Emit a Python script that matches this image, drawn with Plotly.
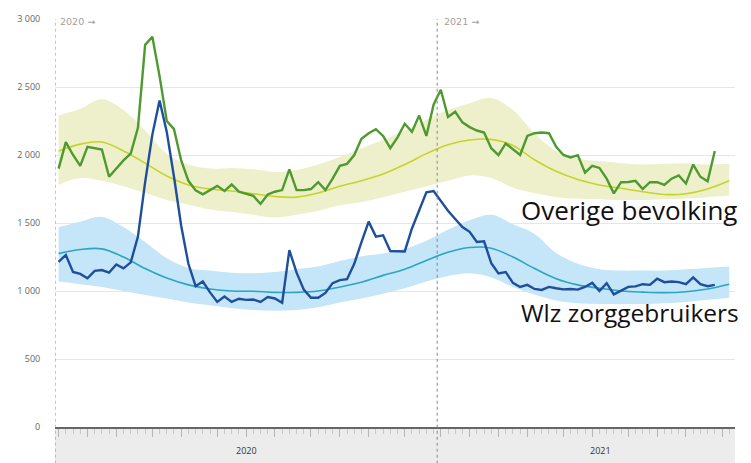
import plotly.graph_objects as go

#%% data (week index: 0 = week 1 of 2020, 53 = week 1 of 2021)
weeks_obs = list(range(92))

overige_obs = [1900, 2095, 2000, 1920, 2060, 2050, 2040, 1840, 1900, 1960,
               2010, 2200, 2810, 2870, 2580, 2250, 2190, 1960, 1810, 1740,
               1711, 1742, 1773, 1735, 1783, 1730, 1715, 1700, 1640, 1710,
               1730, 1742, 1894, 1742, 1742, 1750, 1800, 1742, 1826, 1920,
               1935, 2000, 2120, 2160, 2190, 2140, 2050, 2130, 2230, 2170,
               2290, 2140, 2370, 2480, 2280, 2318, 2240, 2205, 2180, 2165,
               2050, 2000, 2085, 2040, 2000, 2140, 2160, 2165, 2160, 2060,
               2000, 1982, 1999, 1870, 1920, 1905, 1826, 1718, 1800, 1802,
               1810, 1750, 1800, 1800, 1780, 1826, 1850, 1790, 1930, 1840,
               1807, 2030]

wlz_obs = [1214, 1265, 1140, 1126, 1094, 1148, 1154, 1135, 1195, 1166,
           1210, 1400, 1800, 2150, 2400, 2170, 1840, 1480, 1200, 1035,
           1070, 990, 920, 960, 920, 943, 935, 937, 920, 955,
           945, 914, 1300, 1135, 1010, 950, 950, 986, 1058, 1080,
           1087, 1200, 1360, 1510, 1400, 1410, 1294, 1291, 1291, 1460,
           1600, 1725, 1735, 1660, 1590, 1530, 1470, 1435, 1360, 1365,
           1205, 1130, 1140, 1060, 1030, 1045, 1015, 1008, 1030, 1020,
           1012, 1015, 1010, 1030, 1060, 1000, 1058, 975, 1000, 1030,
           1034, 1050, 1045, 1090, 1065, 1070, 1065, 1050, 1100, 1050,
           1035, 1045]

weeks_exp = [0, 3, 6, 9, 12, 15, 18, 21, 24, 27, 30, 33, 36, 39, 42, 45,
             48, 51, 54, 57, 60, 63, 66, 69, 72, 75, 78, 81, 84, 87, 90, 93]

overige_exp = [2030, 2080, 2095, 2030, 1940, 1845, 1780, 1750, 1735, 1715, 1695,
               1690, 1720, 1770, 1810, 1860, 1930, 2010, 2075, 2110, 2115, 2070,
               1965, 1880, 1820, 1780, 1755, 1730, 1710, 1715, 1750, 1810]
overige_low = [1780, 1830, 1810, 1770, 1720, 1670, 1635, 1600, 1580, 1560, 1540,
               1560, 1590, 1630, 1655, 1690, 1730, 1770, 1810, 1850, 1830, 1760,
               1720, 1690, 1680, 1675, 1670, 1670, 1675, 1680, 1690, 1700]
overige_high = [2290, 2340, 2410, 2330, 2180, 2010, 1930, 1900, 1905, 1895, 1875,
                1890, 1930, 1985, 2050, 2110, 2180, 2260, 2330, 2380, 2420, 2330,
                2160, 2030, 1975, 1955, 1940, 1930, 1935, 1940, 1930, 1935]

wlz_exp = [1275, 1305, 1310, 1250, 1165, 1095, 1045, 1015, 1000, 998, 990,
           990, 1000, 1030, 1065, 1115, 1160, 1225, 1285, 1320, 1315, 1250,
           1165, 1090, 1045, 1020, 1000, 992, 988, 995, 1015, 1050]
wlz_low = [1070, 1050, 1030, 1000, 970, 945, 915, 895, 875, 860, 855,
           860, 880, 915, 945, 980, 1020, 1070, 1110, 1130, 1100, 1030,
           975, 930, 910, 905, 905, 905, 910, 920, 935, 950]
wlz_high = [1470, 1510, 1545, 1470, 1360, 1240, 1170, 1150, 1135, 1130, 1140,
            1160, 1180, 1220, 1255, 1275, 1310, 1370, 1450, 1520, 1560, 1490,
            1420, 1280, 1200, 1160, 1150, 1150, 1150, 1160, 1170, 1180]

y_ticks = [0, 500, 1000, 1500, 2000, 2500, 3000]
y_ticktext = ["0", "500", "1 000", "1 500", "2 000", "2 500", "3 000"]

month_ticks = [0, 4, 8, 13, 17, 22, 26, 30, 35, 39, 43, 48, 53, 57, 61, 65,
               70, 74, 79, 83, 87, 92]

#%% figure
fig = go.Figure()

# bands
fig.add_trace(go.Scatter(x=weeks_exp, y=overige_low, mode="lines", line_width=0,
                         line_shape="spline", showlegend=False, hoverinfo="skip"))
fig.add_trace(go.Scatter(x=weeks_exp, y=overige_high, mode="lines", line_width=0,
                         line_shape="spline", fill="tonexty", fillcolor="#eef0cb",
                         showlegend=False, hoverinfo="skip"))
fig.add_trace(go.Scatter(x=weeks_exp, y=wlz_low, mode="lines", line_width=0,
                         line_shape="spline", showlegend=False, hoverinfo="skip"))
fig.add_trace(go.Scatter(x=weeks_exp, y=wlz_high, mode="lines", line_width=0,
                         line_shape="spline", fill="tonexty", fillcolor="#c5e5f8",
                         showlegend=False, hoverinfo="skip"))

# expected
fig.add_trace(go.Scatter(x=weeks_exp, y=overige_exp, mode="lines", line_shape="spline",
                         line=dict(color="#c6d428", width=1.6), showlegend=False))
fig.add_trace(go.Scatter(x=weeks_exp, y=wlz_exp, mode="lines", line_shape="spline",
                         line=dict(color="#2aa6c2", width=1.6), showlegend=False))

# observed
fig.add_trace(go.Scatter(x=weeks_obs, y=overige_obs, mode="lines",
                         line=dict(color="#4f9a30", width=2.4), showlegend=False))
fig.add_trace(go.Scatter(x=weeks_obs, y=wlz_obs, mode="lines",
                         line=dict(color="#1f4f9a", width=2.4), showlegend=False))

# grey time strip under the axis
fig.add_shape(type="rect", xref="x", yref="paper", x0=-0.5, x1=93.8, y0=-0.09, y1=0,
              fillcolor="#ececec", line_width=0, layer="below")
# year separators
fig.add_shape(type="line", xref="x", yref="paper", x0=-0.5, x1=-0.5, y0=-0.09, y1=1,
              line=dict(color="#888888", width=1, dash="dot"))
fig.add_shape(type="line", xref="x", yref="paper", x0=52.5, x1=52.5, y0=-0.09, y1=1,
              line=dict(color="#888888", width=1, dash="dot"))

annots = [
    dict(x=0.005, y=0.993, text="2020 →"),
    dict(x=0.569, y=0.993, text="2021 →"),
]
for a in annots:
    fig.add_annotation(xref="paper", yref="paper", xanchor="left", yanchor="middle",
                       showarrow=False, font=dict(family="DejaVu Sans", size=9.5, color="#a0a0a0"),
                       **a)

fig.add_annotation(x=0.263, y=-0.078, xref="paper", yref="paper", text="2020", showarrow=False,
                   font=dict(size=9, color="#333333"))
fig.add_annotation(x=0.82, y=-0.078, xref="paper", yref="paper", text="2021", showarrow=False,
                   font=dict(size=9, color="#333333"))

fig.add_annotation(x=0.682, y=0.532, xref="paper", yref="paper", xanchor="left",
                   text="Overige bevolking", showarrow=False,
                   font=dict(family="Open Sans", size=26, color="#111111"))
fig.add_annotation(x=0.682, y=0.235, xref="paper", yref="paper", xanchor="left",
                   text="Wlz zorggebruikers", showarrow=False,
                   font=dict(family="Open Sans", size=24.5, color="#111111"))

# page has an 8px body margin -> figure is 8px smaller and margins shifted
fig.update_layout(width=743, height=455, margin=dict(l=47, r=16, t=4, b=36),
                  plot_bgcolor="white", paper_bgcolor="white",
                  font=dict(family="Open Sans", size=9, color="#666666"))

fig.update_xaxes(range=[-0.5, 93.8], showgrid=False, zeroline=False,
                 showline=True, linecolor="#666666", linewidth=2,
                 tickvals=month_ticks, ticktext=[""] * len(month_ticks),
                 ticks="outside", ticklen=8, tickcolor="#b5b5b5", tickwidth=1,
                 minor=dict(dtick=1, ticks="outside", ticklen=5, tickcolor="#c8c8c8"))
fig.update_yaxes(range=[0, 3000], tickvals=y_ticks, ticktext=y_ticktext,
                 showgrid=True, gridcolor="#e6e6e6", gridwidth=1, zeroline=False,
                 ticks="outside", ticklen=12, tickcolor="rgba(0,0,0,0)",
                 ticklabeloverflow="allow")

fig.write_html("out.html")
